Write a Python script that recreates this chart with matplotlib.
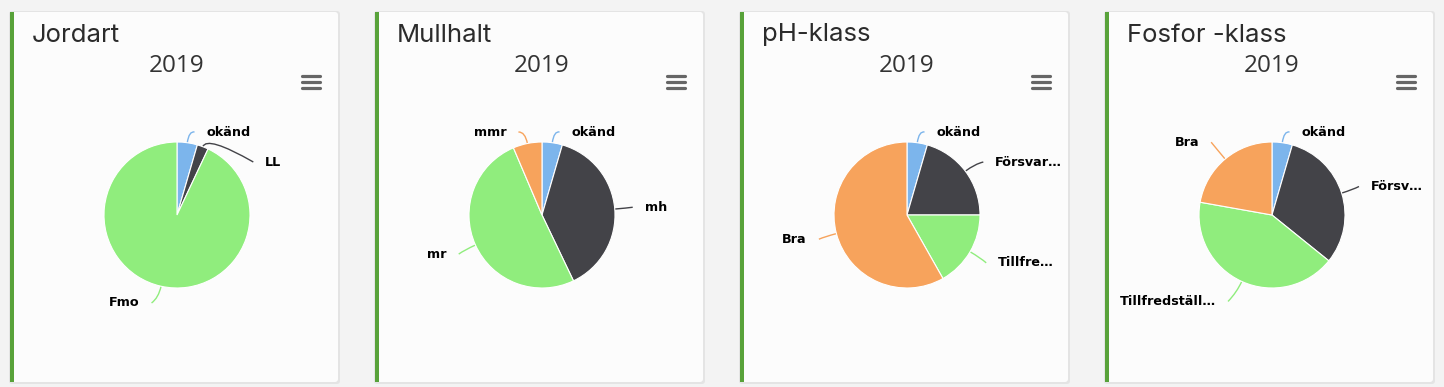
import numpy as np
import matplotlib.pyplot as plt
from matplotlib.patches import Rectangle, FancyBboxPatch, PathPatch
from matplotlib.path import Path

# Chart data (share of fields, %)
titles = ['Jordart', 'Mullhalt', 'pH-klass', 'Fosfor -klass']
year = '2019'

jordart_labels = ['okänd', 'LL', 'Fmo']
jordart_values = [4.5, 2.5, 93.0]

mullhalt_labels = ['okänd', 'mh', 'mr', 'mmr']
mullhalt_values = [4.5, 38.4, 50.7, 6.4]

ph_labels = ['okänd', 'Försvar…', 'Tillfre…', 'Bra']
ph_values = [4.5, 20.5, 16.8, 58.2]

fosfor_labels = ['okänd', 'Försv…', 'Tillfredställ…', 'Bra']
fosfor_values = [4.5, 31.3, 42.0, 22.2]

colors = ['#7cb5ec', '#434348', '#90ed7d', '#f7a35c']

charts = [(jordart_labels, jordart_values),
          (mullhalt_labels, mullhalt_values),
          (ph_labels, ph_values),
          (fosfor_labels, fosfor_values)]

W, H = 1444, 387
fig = plt.figure(figsize=(W / 100, H / 100), dpi=100)
fig.patch.set_facecolor('#f3f3f3')
ax = fig.add_axes([0, 0, 1, 1])


def Y(y):
    # pixel row (top-down) -> data y
    return H - y


card_x0 = 10
card_step = 365
card_w = 328
card_top, card_bot = 12, 382
r = 73
cy = 215

for i, (labels, values) in enumerate(charts):
    x0 = card_x0 + i * card_step
    # card shadow and body
    ax.add_patch(FancyBboxPatch((x0 - 1, Y(card_bot + 2)), card_w + 3, card_bot - card_top + 3,
                                boxstyle='round,pad=0,rounding_size=3', fc='#e4e4e4', ec='none', zorder=1))
    ax.add_patch(FancyBboxPatch((x0, Y(card_bot)), card_w, card_bot - card_top,
                                boxstyle='round,pad=0,rounding_size=3', fc='#fcfcfc', ec='none', zorder=2))
    ax.add_patch(Rectangle((x0, Y(card_bot)), 4, card_bot - card_top, fc='#58a23a', ec='none', zorder=3))

    # titles
    ax.text(x0 + 22, Y(35), titles[i], fontsize=18.5, family='Inter', fontweight='normal',
            color='#2b2b2b', ha='left', va='center', zorder=5)
    ax.text(x0 + 167, Y(66), year, fontsize=17.5, family='Open Sans', fontweight='normal',
            color='#333333', ha='center', va='center', zorder=5)

    # menu icon
    for by in (76, 82, 88):
        ax.plot([x0 + 292, x0 + 310], [Y(by), Y(by)], color='#666666', lw=2.3,
                solid_capstyle='round', zorder=5)

    # pie
    cx = x0 + 167
    wedges, _ = ax.pie(values, colors=colors[:len(values)], startangle=90, counterclock=False,
                       center=(cx, Y(cy)), radius=r, frame=True,
                       wedgeprops=dict(edgecolor='white', linewidth=0.8))
    for w in wedges:
        w.set_zorder(6)

    # data labels (Highcharts-like placement)
    frac = np.array(values) / np.sum(values)
    mids = (np.cumsum(frac) - frac / 2) * 2 * np.pi
    Rx, Ry = r + 30, r + 22
    top_lim, bot_lim, gap = -83, 88, 30
    items = []
    for lab, a, col in zip(labels, mids, colors):
        side = 1 if np.sin(a) >= 0 else -1
        nat = -Ry * np.cos(a)
        items.append(dict(lab=lab, a=a, col=col, side=side, dy=min(max(nat, top_lim), bot_lim),
                          clamped=(nat < top_lim or nat > bot_lim)))
    for side in (1, -1):
        s = sorted([it for it in items if it['side'] == side], key=lambda it: it['dy'])
        for k in range(1, len(s)):
            if s[k]['dy'] < s[k - 1]['dy'] + gap:
                s[k]['dy'] = s[k - 1]['dy'] + gap
                s[k]['clamped'] = False
    for it in items:
        a, side, dy = it['a'], it['side'], it['dy']
        if it['clamped']:
            dx = Rx * np.sin(a) + side * 15
        else:
            dx = side * np.sqrt(max(Rx ** 2 - dy ** 2, 0))
        lx, ly = cx + dx, cy + dy
        ax.text(lx, Y(ly), it['lab'], fontsize=9.2, fontweight='bold', family='DejaVu Sans',
                color='black', ha='left' if side > 0 else 'right', va='center', zorder=8)
        p0 = (cx + r * np.sin(a), Y(cy - r * np.cos(a)))
        p1 = (cx + (r + 12) * np.sin(a), Y(cy - (r + 12) * np.cos(a)))
        p2 = (lx - side * 12, Y(ly))
        path = Path([p0, p1, p2], [Path.MOVETO, Path.CURVE3, Path.CURVE3])
        ax.add_patch(PathPatch(path, fc='none', ec=it['col'], lw=1, zorder=5))

ax.set_xlim(0, W)
ax.set_ylim(0, H)
ax.set_aspect('auto')
ax.axis('off')

fig.savefig('out.png', dpi=100, facecolor=fig.get_facecolor())
